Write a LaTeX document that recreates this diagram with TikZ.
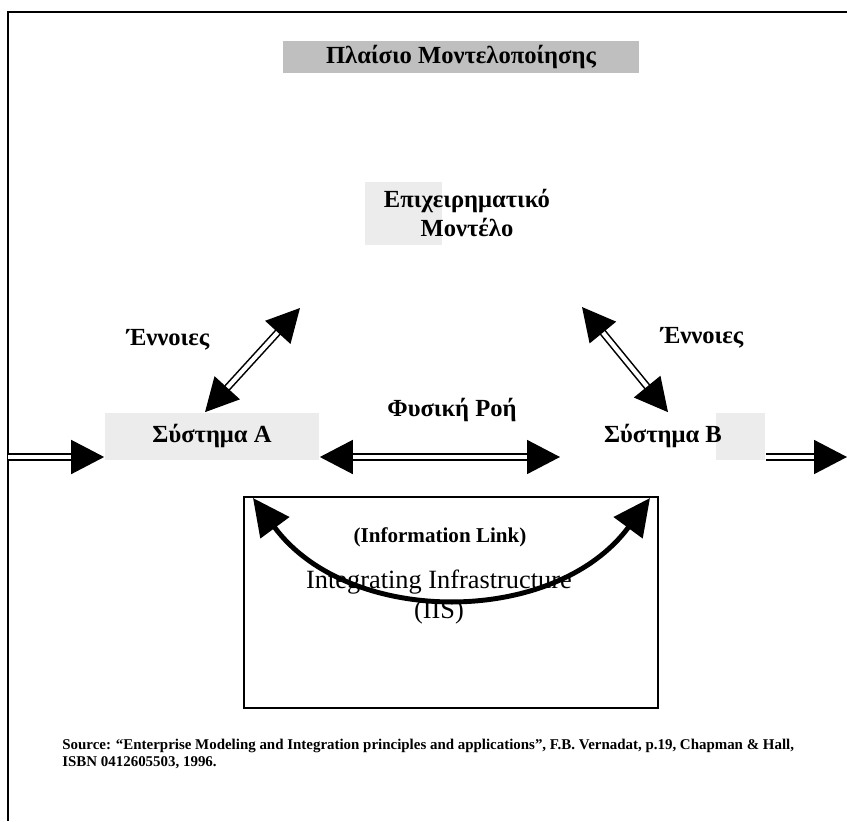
\documentclass[tikz,border=0pt]{standalone}
\usepackage{fontspec}
\setmainfont{Liberation Serif}
\usetikzlibrary{arrows.meta,positioning}

\begin{document}
\begin{tikzpicture}[x=0.02cm,y=-0.02cm,>={Triangle[length=0.66cm,width=0.68cm]}]
  \tikzstyle{lbl}=[font=\fontsize{14}{17}\selectfont\bfseries,inner sep=0pt,align=center]
  \tikzstyle{patch}=[fill=gray!15]
  \tikzstyle{flow}=[double,double distance=2.4pt,line width=0.9pt]
  \useasboundingbox (0,0) rectangle (847,821);
  \draw[line width=1pt] (8,821) -- (8,12) -- (847,12);
  \node[lbl,fill=gray!50,minimum width=7.14cm,minimum height=0.64cm] (title) at (461,57) {Πλαίσιο Μοντελοποίησης};
  \fill[patch] (365,182) rectangle (442,245);
  \node[lbl] (model) at (467,213) {Επιχειρηματικό\\Μοντέλο};
  \node[lbl] (conceptsA) at (168,340) {Έννοιες};
  \node[lbl] (conceptsB) at (702,338) {Έννοιες};
  \node[lbl,patch,minimum width=4.3cm,minimum height=0.94cm] (sysA) at (212,436) {Σύστημα Α};
  \fill[patch] (716,413) rectangle (765,460);
  \node[lbl,minimum height=0.94cm] (sysB) at (663,436) {Σύστημα Β};
  \node[lbl] (physflow) at (452,410) {Φυσική Ροή};
  \node[draw,line width=1pt,minimum width=8.28cm,minimum height=4.22cm] (iis) at (451,602.5) {};
  \node[font=\fontsize{12}{14}\selectfont\bfseries] (infolink) at (440,537) {(Information Link)};
  \node[font=\fontsize{15}{17}\selectfont,align=center,inner sep=0pt] (infra) at (439,597) {Integrating Infrastructure\\(IIS)};
  \node[font=\fontsize{8.5}{10.2}\selectfont\bfseries,align=left,anchor=west,inner sep=0pt] (src) at (62,754)
    {Source: ``Enterprise Modeling and Integration principles and applications'', F.B. Vernadat, p.19, Chapman \& Hall,\\ISBN 0412605503, 1996.};
  \coordinate (modelA) at (300,308);
  \coordinate (modelB) at (582,307);
  \coordinate (inA) at (8,457);
  \coordinate (flowB) at (560,457);
  \coordinate (outB) at (847,457);
  \coordinate (linkA) at (253,498);
  \coordinate (linkB) at (650,498);
  \draw[flow,<->] ([xshift=-0.14cm]sysA.north) -- (modelA);
  \draw[flow,<->] (modelB) -- ([xshift=0.1cm]sysB.north);
  \draw[flow,->] (inA) -- (inA -| sysA.west);
  \draw[flow,<->] (inA -| sysA.east) -- (flowB);
  \draw[flow,->] (inA -| 766,0) -- (outB);
  \draw[line width=2.8pt,{Triangle[length=0.74cm,width=0.7cm]}-{Triangle[length=0.74cm,width=0.7cm]}]
    (linkA) .. controls (348,627) and (555,627) .. (linkB);
\end{tikzpicture}
\end{document}
